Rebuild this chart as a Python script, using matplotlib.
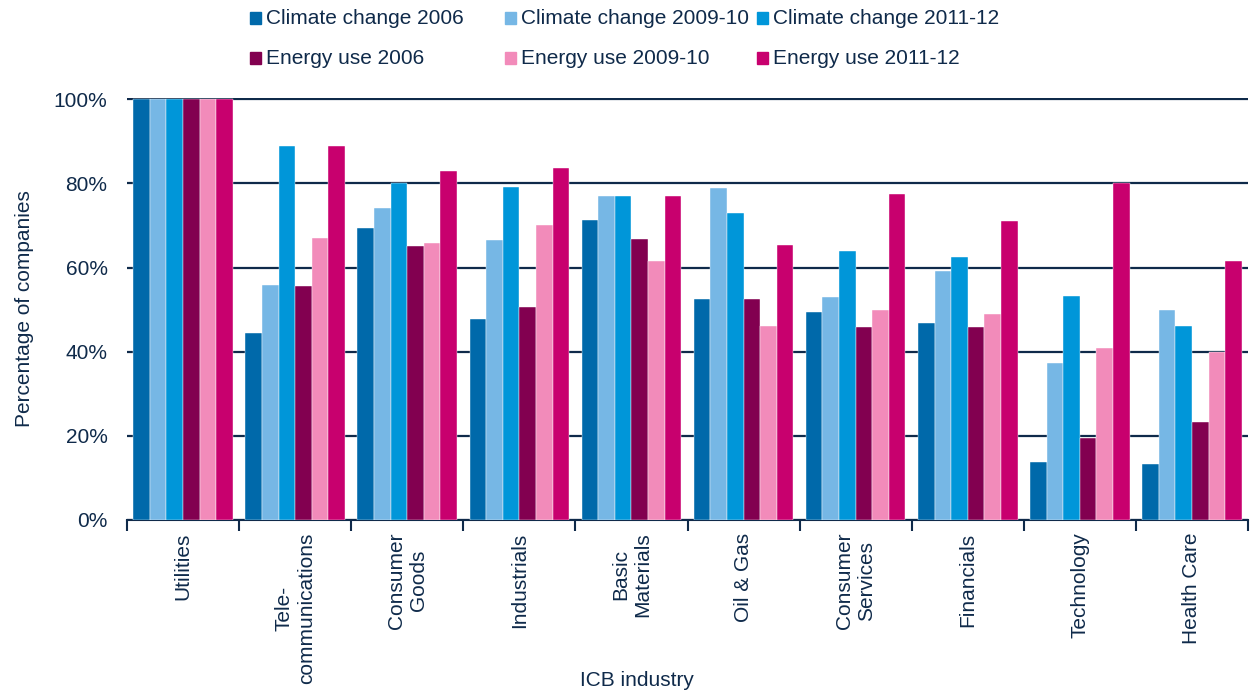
import matplotlib.pyplot as plt
from matplotlib.patches import Rectangle
import numpy as np

plt.rcParams['font.family'] = ['Liberation Sans', 'DejaVu Sans']

industries = ["Utilities", "Tele-\ncommunications", "Consumer\nGoods", "Industrials",
              "Basic\nMaterials", "Oil & Gas", "Consumer\nServices", "Financials",
              "Technology", "Health Care"]

series_names = ["Climate change 2006", "Climate change 2009-10", "Climate change 2011-12",
                "Energy use 2006", "Energy use 2009-10", "Energy use 2011-12"]

cc_2006 = [100, 44.4, 69.5, 47.8, 71.4, 52.6, 49.5, 46.8, 13.8, 13.3]
cc_2009 = [100, 55.9, 74.2, 66.6, 76.9, 78.9, 52.9, 59.2, 37.4, 49.9]
cc_2011 = [100, 88.9, 80.0, 79.1, 76.9, 73.0, 64.0, 62.6, 53.2, 46.1]
eu_2006 = [100, 55.5, 65.2, 50.6, 66.7, 52.6, 45.8, 45.8, 19.4, 23.3]
eu_2009 = [100, 67.0, 65.9, 70.0, 61.5, 46.0, 49.9, 49.0, 40.9, 40.0]
eu_2011 = [100, 88.9, 82.9, 83.7, 76.9, 65.3, 77.4, 71.0, 80.0, 61.5]

colors = ["#0069AA", "#76B7E5", "#0096D9", "#820050", "#F28BBA", "#C8006E"]
navy = "#0F2A4A"
fs = 15

data = [cc_2006, cc_2009, cc_2011, eu_2006, eu_2009, eu_2011]

fig = plt.figure(figsize=(12.5, 6.91), dpi=100)
ax = fig.add_axes([0.1016, 0.2475, 0.8968, 0.6107])

x = np.arange(len(industries))
w = 0.148
for i, vals in enumerate(data):
    ax.bar(x + (i - 2.5) * w, vals, width=w, color=colors[i], zorder=3,
           edgecolor='white', linewidth=0.3)

ax.set_xlim(-0.5, len(industries) - 0.5)
ax.set_ylim(0, 100.3)
ax.set_yticks([0, 20, 40, 60, 80, 100])
ax.set_yticklabels(["0%", "20%", "40%", "60%", "80%", "100%"], fontsize=fs, color=navy)
ax.yaxis.grid(True, color=navy, linewidth=1.6, zorder=1)
ax.tick_params(axis='y', length=0, pad=14)

ax.set_xticks(np.arange(-0.5, len(industries)), minor=False)
ax.set_xticklabels([])
ax.tick_params(axis='x', which='major', length=8, color=navy, width=1.5)
ax.set_xticks(x, minor=True)
ax.set_xticklabels(industries, minor=True, rotation=90, fontsize=fs, color=navy,
                   va='top', ha='center', multialignment='center')
ax.tick_params(axis='x', which='minor', length=0, pad=9)

for s in ['top', 'right', 'left']:
    ax.spines[s].set_visible(False)
ax.spines['bottom'].set_color(navy)
ax.spines['bottom'].set_linewidth(1.5)

ax.set_ylabel("Percentage of companies", fontsize=fs, color=navy, labelpad=14)
fig.text(637 / 1250, 1 - 680 / 691, "ICB industry", fontsize=fs, color=navy,
         ha='center', va='center')

# legend: two rows, three columns as in the original
col_x = [250, 505, 757]
row_y = [18, 58]
for i, name in enumerate(series_names):
    px = col_x[i % 3]
    py = row_y[i // 3]
    fig.add_artist(Rectangle((px / 1250, 1 - (py + 6) / 691), 11 / 1250, 12 / 691,
                             transform=fig.transFigure, color=colors[i]))
    fig.text((px + 16) / 1250, 1 - py / 691, name, fontsize=fs, color=navy,
             va='center', ha='left')

fig.savefig("out.png", dpi=100)
plt.close()
